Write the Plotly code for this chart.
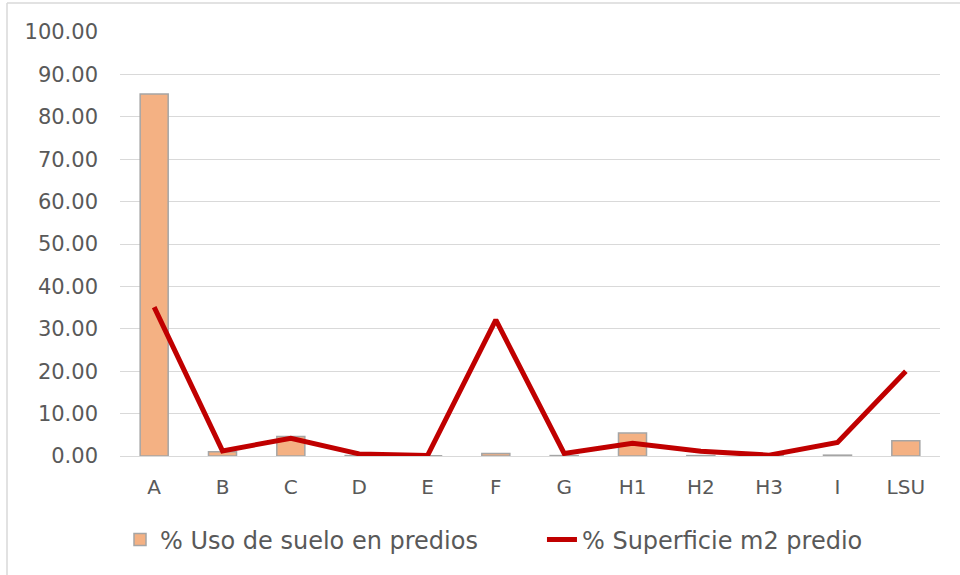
import plotly.graph_objects as go

# categories and series
categorias = ["A", "B", "C", "D", "E", "F", "G", "H1", "H2", "H3", "I", "LSU"]
uso_suelo = [85.4, 1.0, 4.6, 0.1, 0.05, 0.6, 0.1, 5.4, 0.1, 0.05, 0.2, 3.6]
superficie = [35.1, 1.2, 4.2, 0.5, 0.1, 32.1, 0.6, 3.0, 1.1, 0.2, 3.2, 20.0]
y_ticks = [0, 10, 20, 30, 40, 50, 60, 70, 80, 90, 100]

fuente = "'DejaVu Sans', sans-serif"
gris_texto = "#595959"
gris_linea = "#D9D9D9"

fig = go.Figure()

fig.add_trace(go.Bar(
    x=categorias, y=uso_suelo,
    name="% Uso de suelo en predios",
    marker=dict(color="#F4B183", line=dict(color="#A5A5A5", width=1.5)),
    width=0.41, legend="legend",
))

fig.add_trace(go.Scatter(
    x=categorias, y=superficie,
    name="% Superficie m2 predio",
    mode="lines",
    line=dict(color="#C00000", width=5),
    legend="legend2",
))

leyenda = dict(orientation="h", xanchor="left", y=-0.198, yanchor="middle",
               font=dict(size=24, color=gris_texto), itemwidth=30)

fig.update_layout(
    width=960, height=575,
    margin=dict(l=120, r=20, t=32, b=119),
    paper_bgcolor="white", plot_bgcolor="white",
    font=dict(family=fuente, size=20, color=gris_texto),
    showlegend=True,
    legend=dict(leyenda, x=0.0),
    legend2=dict(leyenda, x=0.5146),
)

fig.update_yaxes(
    range=[0, 100], tickvals=y_ticks,
    ticktext=[f"{v:.2f}" for v in y_ticks],
    showgrid=True, gridcolor=gris_linea, gridwidth=1.3,
    zeroline=False, showline=False, ticks="", ticklabelstandoff=21,
    tickfont=dict(size=21),
)
fig.update_xaxes(
    showgrid=False, showline=True, linecolor=gris_linea, linewidth=1.3,
    ticks="", ticklabelstandoff=13, tickfont=dict(size=20),
)

# frame edges of the chart (top and left visible)
fig.add_shape(type="line", xref="paper", yref="paper",
              x0=-0.1378, x1=1.03, y0=1.0684, y1=1.0684,
              line=dict(color=gris_linea, width=1.5), layer="below")
fig.add_shape(type="line", xref="paper", yref="paper",
              x0=-0.1378, x1=-0.1378, y0=1.0684, y1=-0.3,
              line=dict(color=gris_linea, width=1.5), layer="below")

fig.write_html("out.html", config={"displayModeBar": False},
               post_script="document.body.style.margin='0';")
